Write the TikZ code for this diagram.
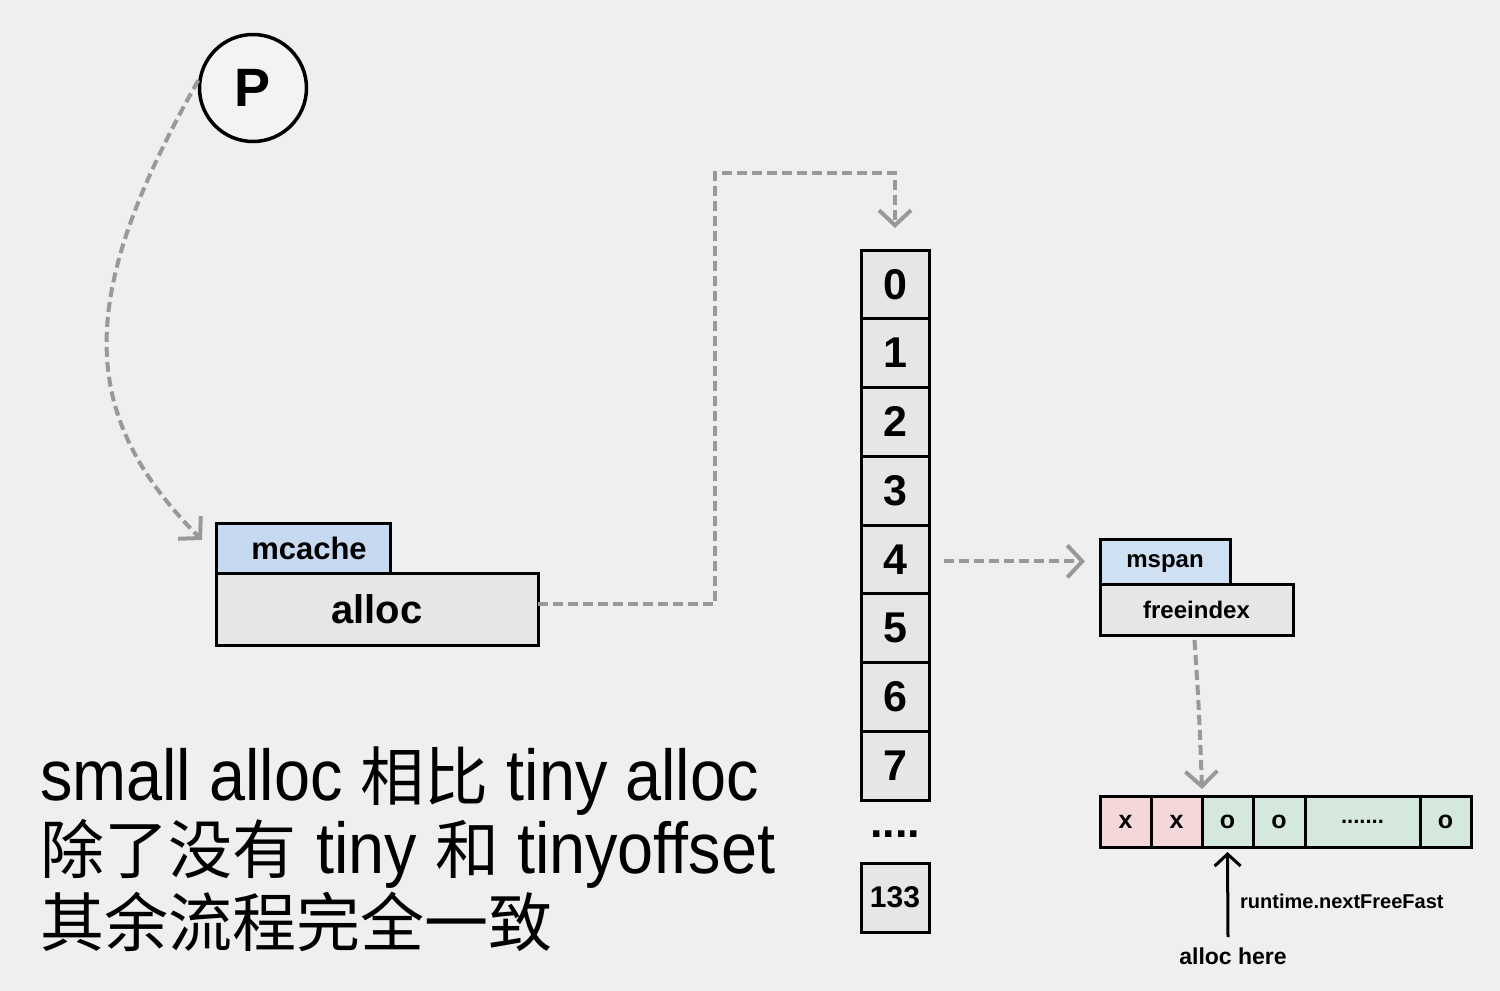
\documentclass[tikz,border=0pt]{standalone}
\usepackage{fontspec}
\setmainfont{Liberation Sans}
\newfontfamily\cjkf{Noto Sans CJK SC}
\newcommand{\cjk}{\cjkf\fontsize{64}{80}\selectfont}
\newfontfamily\latc[FakeStretch=0.9]{Liberation Sans}
\usetikzlibrary{arrows.meta}
\definecolor{bg}{HTML}{EFEFEF}
\definecolor{agray}{HTML}{999999}
\definecolor{cellg}{HTML}{E6E6E6}
\definecolor{mblue}{HTML}{C6D9F1}
\definecolor{sblue}{HTML}{D0E0F3}
\definecolor{xred}{HTML}{F3D7D9}
\definecolor{ogreen}{HTML}{D5E8DE}
\definecolor{pfill}{HTML}{F3F3F3}
\begin{document}
\begin{tikzpicture}[x=1pt,y=-1pt,
  box/.style={draw=black,line width=3pt,inner sep=0pt,outer sep=0pt,font=\bfseries},
  cellbox/.style={box,fill=cellg,minimum width=68pt,minimum height=68.75pt,font=\bfseries\fontsize{43}{43}\selectfont},
  slotbox/.style={box,minimum height=51pt,font=\bfseries\fontsize{25}{25}\selectfont},
  dasharrow/.style={draw=agray,line width=4pt,dash pattern=on 10pt off 5pt,-{Straight Barb[length=15pt,width=32pt]}},
  blackarrow/.style={draw=black,line width=3pt,-{Straight Barb[length=12pt,width=26pt]}},
  bigtext/.style={anchor=base west,inner sep=0pt,font=\fontsize{72}{80}\selectfont},
  lbl/.style={inner sep=0pt,font=\bfseries}
]
\fill[bg] (0,0) rectangle (1500,991);
\useasboundingbox (0,0) rectangle (1500,991);

% P circle
\node[circle,draw=black,line width=3.5pt,fill=pfill,minimum size=107pt,inner sep=0pt,
      font=\bfseries\fontsize{54}{54}\selectfont] (P) at (253,88) {P};

% mcache / alloc
\node[box,fill=mblue,minimum width=174pt,minimum height=50pt,font=\bfseries\fontsize{31}{31}\selectfont] (mcache) at (303,548) {\hspace*{12pt}mcache};
\node[box,fill=cellg,minimum width=322pt,minimum height=72pt,font=\bfseries\fontsize{40}{40}\selectfont] (alloc) at (377,609) {alloc};

% array
\foreach \i in {0,...,7}{
  \node[cellbox] (c\i) at (895,{250+68.75*(\i+0.5)}) {\i};
}
\node[lbl,font=\bfseries\fontsize{45}{45}\selectfont] (dots) at (895,834) {....};
\node[cellbox,minimum height=69pt,font=\bfseries\fontsize{30}{30}\selectfont] (c133) at (895,897.5) {133};

% mspan / freeindex
\node[box,fill=sblue,minimum width=130pt,minimum height=45pt,text depth=1pt,font=\bfseries\fontsize{24}{24}\selectfont] (mspan) at (1165,561.5) {mspan};
\node[box,fill=cellg,minimum width=193pt,minimum height=51pt,font=\bfseries\fontsize{24}{24}\selectfont] (fi) at (1196.5,609.5) {freeindex};

% slots
\node[slotbox,fill=xred,minimum width=51pt] (s1) at (1125.5,821.5) {x};
\node[slotbox,fill=xred,minimum width=51pt] (s2) at (1176.5,821.5) {x};
\node[slotbox,fill=ogreen,minimum width=51pt] (s3) at (1227.5,821.5) {o};
\node[slotbox,fill=ogreen,minimum width=52pt] (s4) at (1279,821.5) {o};
\node[slotbox,fill=ogreen,minimum width=115pt,font=\bfseries\fontsize{22}{22}\selectfont] (s5) at (1362.5,821.5) {.......};
\node[slotbox,fill=ogreen,minimum width=51pt] (s6) at (1445.5,821.5) {o};

% labels
\node[lbl,anchor=west,font=\bfseries\fontsize{20}{20}\selectfont] (rt) at (1240,901) {runtime.nextFreeFast};
\node[lbl,font=\bfseries\fontsize{23}{23}\selectfont] (ahere) at (1233,956) {alloc here};

% big text
\node[bigtext] (t1) at (40,800) {\latc small alloc {\cjk 相比} tiny alloc};
\node[bigtext] (t2) at (40,873) {{\cjk 除了没有} \latc tiny {\cjk 和} tinyoffset};
\node[bigtext] (t3) at (40,946) {\cjk 其余流程完全一致};

% connectors
\coordinate (ptip) at (202,540);
\draw[dasharrow] (P.172) .. controls (80,290) and (72,410) .. (ptip);

\coordinate (t0) at (895,228);
\draw[dasharrow] ([yshift=5pt]alloc.east) -| (715,173) -| (t0);

\draw[dasharrow,shorten <=15pt,shorten >=15pt] ([yshift=-2pt]c4.east) -- ([yshift=-2pt]c4.east -| mspan.west);

\coordinate (stip) at (1202,789);
\draw[dasharrow] ([xshift=-2pt,yshift=-5pt]fi.south) to[out=-86,in=92] (stip);

\coordinate (abot) at (1228,937);
\draw[blackarrow] (abot) -- ([yshift=-5pt]s3.south);
\end{tikzpicture}
\end{document}
